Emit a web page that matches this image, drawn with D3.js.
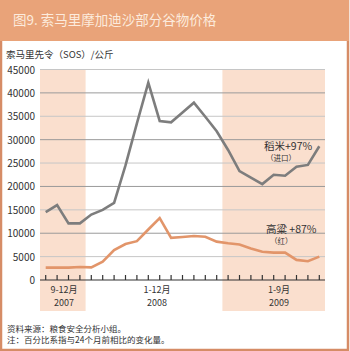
<!DOCTYPE html>
<html>
<head>
<meta charset="utf-8">
<script src="https://cdn.jsdelivr.net/npm/d3@7"></script>
<style>
  body { margin: 0; background: #fff; }
  svg text { font-family: "Noto Sans CJK SC", "Noto Sans", sans-serif; }
</style>
</head>
<body>
<div id="chart"></div>
<script>
// months Sep 2007 .. Sep 2009
const months = ["2007-09","2007-10","2007-11","2007-12",
  "2008-01","2008-02","2008-03","2008-04","2008-05","2008-06","2008-07","2008-08","2008-09","2008-10","2008-11","2008-12",
  "2009-01","2009-02","2009-03","2009-04","2009-05","2009-06","2009-07","2009-08","2009-09"];
// rice (imported), SOS per kg
const rice = [14500, 16000, 12100, 12100, 14000, 15000, 16500, 24500, 33500, 42200, 34000, 33700, 35800, 37900, 34900, 31800,
  27800, 23300, 21900, 20500, 22500, 22300, 24200, 24600, 28600];
// sorghum (red)
const sorghum = [2650, 2650, 2650, 2780, 2700, 3900, 6400, 7700, 8300, 10800, 13250, 9000, 9200, 9400, 9250, 8200,
  7850, 7600, 6750, 6050, 5850, 5850, 4300, 4000, 5000];
const yTicks = [0, 5000, 10000, 15000, 20000, 25000, 30000, 35000, 40000, 45000];
// shaded periods: [first month, last month]
const bands = [["2007-09","2007-12"], ["2009-01","2009-09"]];
const periodLabels = [["9-12月","2007", 64], ["1-12月","2008", 157], ["1-9月","2009", 279]];

const W = 350, H = 351;
const svg = d3.select("#chart").append("svg")
  .attr("width", W).attr("height", H);

// frame + title band
svg.append("rect").attr("x", 1).attr("y", 1).attr("width", W - 3).attr("height", H - 2)
  .attr("fill", "#fff").attr("stroke", "#D68C66").attr("stroke-width", 2.5);
svg.append("rect").attr("x", 0).attr("y", 0).attr("width", W - 1).attr("height", 41)
  .attr("fill", "#E9A379");
svg.append("text").attr("x", 13).attr("y", 25)
  .attr("fill", "#FCEBDD").style("font-size", "13.5px")
  .text("图9. 索马里摩加迪沙部分谷物价格");

const x0 = 40, x1 = 325, yTop = 69.5, yBot = 280;

var x = d3.scaleBand().domain(months).range([x0, x1]).paddingInner(0).paddingOuter(0);
var xc = d => x(d) + x.bandwidth() / 2;
var y = d3.scaleLinear().domain([0, 45000]).range([yBot, yTop]);

// shaded periods
svg.selectAll("rect.band")
  .data(bands).enter().append("rect")
  .attr("class", "band")
  .attr("x", d => x(d[0]))
  .attr("width", d => x(d[1]) + x.bandwidth() - x(d[0]))
  .attr("y", yTop).attr("height", 311 - yTop)
  .attr("fill", "#FADFCE");

// gridlines
svg.selectAll("line.grid")
  .data(yTicks.slice(1)).enter().append("line")
  .attr("x1", x0).attr("x2", x1)
  .attr("y1", d => y(d)).attr("y2", d => y(d))
  .attr("stroke", d => d % 10000 == 0 ? "#9a9a9a" : "#c6c6c6")
  .attr("stroke-width", 1);

// y axis labels
svg.selectAll("text.ytick")
  .data(yTicks).enter().append("text")
  .attr("x", 35).attr("y", d => y(d) + 4)
  .attr("text-anchor", "end")
  .attr("fill", "#333").style("font-size", "10px")
  .text(d => d);

svg.append("text").attr("x", 6).attr("y", 58)
  .attr("fill", "#333").style("font-size", "9.5px")
  .text("索马里先令（SOS）/公斤");

// x axis, ticks pointing up
svg.append("line").attr("x1", x0).attr("x2", x1).attr("y1", yBot).attr("y2", yBot)
  .attr("stroke", "#333").attr("stroke-width", 1.2);
svg.selectAll("line.xtick")
  .data(months).enter().append("line")
  .attr("x1", d => xc(d)).attr("x2", d => xc(d))
  .attr("y1", yBot).attr("y2", yBot - 5)
  .attr("stroke", "#333").attr("stroke-width", 1.2);

periodLabels.forEach(function(p) {
  svg.append("text").attr("x", p[2]).attr("y", 293)
    .attr("text-anchor", "middle").attr("fill", "#333").style("font-size", "9px").text(p[0]);
  svg.append("text").attr("x", p[2]).attr("y", 306)
    .attr("text-anchor", "middle").attr("fill", "#333").style("font-size", "9px").text(p[1]);
});

// lines
var line = d3.line().x((d, i) => xc(months[i])).y(d => y(d));
svg.append("path").datum(rice).attr("d", line)
  .attr("fill", "none").attr("stroke", "#7d7d7d").attr("stroke-width", 2.6)
  .attr("stroke-linejoin", "miter");
svg.append("path").datum(sorghum).attr("d", line)
  .attr("fill", "none").attr("stroke", "#E2956A").attr("stroke-width", 2.6)
  .attr("stroke-linejoin", "miter");

// annotations
svg.append("text").attr("x", 264).attr("y", 150)
  .attr("fill", "#333").style("font-size", "10.5px").text("稻米+97%");
svg.append("text").attr("x", 266).attr("y", 161)
  .attr("fill", "#333").style("font-size", "7.5px").text("（进口）");
svg.append("text").attr("x", 266).attr("y", 233)
  .attr("fill", "#333").style("font-size", "10.5px").text("高粱 +87%");
svg.append("text").attr("x", 270).attr("y", 244)
  .attr("fill", "#333").style("font-size", "7.5px").text("（红）");

// footer
svg.append("text").attr("x", 7).attr("y", 332)
  .attr("fill", "#333").style("font-size", "8.5px").text("资料来源：粮食安全分析小组。");
svg.append("text").attr("x", 7).attr("y", 343)
  .attr("fill", "#333").style("font-size", "8.5px").text("注：百分比系指与24个月前相比的变化量。");
</script>
</body>
</html>
